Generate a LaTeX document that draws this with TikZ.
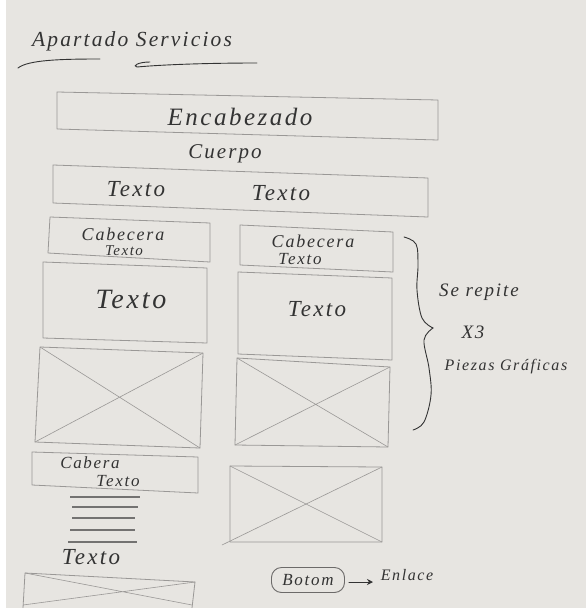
\documentclass[tikz,border=0pt]{standalone}
\usepackage{fontspec}
\setmainfont{Liberation Serif}
\newfontfamily\hw[LetterSpace=10]{Liberation Serif}
\usetikzlibrary{arrows.meta}
\definecolor{paper}{HTML}{E7E5E1}
\definecolor{pencil}{HTML}{9A9896}
\definecolor{ink}{HTML}{333333}
\tikzset{
  x=1pt, y=-1pt,
  sk/.style={draw=pencil, line width=0.8pt, line join=round},
  diag/.style={draw=pencil, line width=0.6pt},
  ruled/.style={draw=pencil!75!black, line width=1.1pt},
  hand/.style={text=ink, inner sep=0pt},
  inkline/.style={draw=ink, line width=0.9pt, line cap=round},
}
\newcommand{\hs}[1]{\hw\itshape\fontsize{#1}{#1}\selectfont}
\begin{document}
\begin{tikzpicture}
\useasboundingbox (0,0) rectangle (586,608);
\fill[paper] (0,0) rectangle (586,608);
\fill[white] (0,0) rectangle (6,608);
% title
\node[hand, font=\hs{21.5}] (title) at (132,41) {Apartado Servicios};
\draw[inkline] (18,68) .. controls (28,60) and (60,59) .. (100,59);
\draw[inkline] (150,62) .. controls (138,62) and (132,66) .. (137,67) .. controls (170,64) and (220,63) .. (257,63);
% encabezado
\draw[sk] (57,92) -- (438,100) -- (438,140) -- (57,129) -- cycle;
\node[hand, font=\hs{25}] (enc) at (240,117) {Encabezado};
\node[hand, font=\hs{21}] (cuerpo) at (225,154) {Cuerpo};
% texto row
\draw[sk] (53,165) -- (428,178) -- (428,217) -- (53,203) -- cycle;
\node[hand, font=\hs{23}] (t1) at (136,189) {Texto};
\node[hand, font=\hs{23}] (t2) at (281,193) {Texto};
% left column
\draw[sk] (50,217) -- (210,223) -- (210,262) -- (48,253) -- cycle;
\node[hand, font=\hs{18}] (lcab) at (123,234) {Cabecera};
\node[hand, font=\hs{15}] (ltx) at (124,251) {Texto};
\draw[sk] (43,262) -- (207,268) -- (207,343) -- (43,338) -- cycle;
\node[hand, font=\hs{28}] (ltexto) at (131,299) {Texto};
\draw[sk] (40,347) coordinate (la) -- (203,353) coordinate (lb) -- (200,448) coordinate (lc) -- (35,442) coordinate (ld) -- cycle;
\draw[diag] (la) -- (lc) (lb) -- (ld);
% right column
\draw[sk] (240,225) -- (393,232) -- (393,272) -- (240,265) -- cycle;
\node[hand, font=\hs{18}] (rcab) at (313,241) {Cabecera};
\node[hand, font=\hs{17}] (rtx) at (300,259) {Texto};
\draw[sk] (238,272) -- (392,278) -- (392,360) -- (238,354) -- cycle;
\node[hand, font=\hs{23}] (rtexto) at (317,309) {Texto};
\draw[sk] (237,358) coordinate (ra) -- (390,367) coordinate (rb) -- (388,447) coordinate (rc) -- (235,445) coordinate (rd) -- cycle;
\draw[diag] (ra) -- (rc) (rb) -- (rd);
% brace
\draw[inkline] plot[smooth, tension=0.6] coordinates {(404,237) (416,244) (418,265) (417,290) (422,318) (433,328)};
\draw[inkline] plot[smooth, tension=0.6] coordinates {(433,328) (424,340) (429,368) (431,395) (424,422) (413,430)};
\node[hand, font=\hs{19}] (rep) at (479,292) {Se repite};
\node[hand, font=\hs{19}] (x3) at (473,332) {X3};
\node[hand, font=\hs{16}] (piezas) at (506,367) {Piezas Gráficas};
% bottom left
\draw[sk] (32,452) -- (198,457) -- (198,493) -- (32,485) -- cycle;
\node[hand, font=\hs{17}] (cab2) at (90,463) {Cabera};
\node[hand, font=\hs{17}] (tx2) at (118,481) {Texto};
\foreach \yy/\xa/\xb in {497/70/140, 507/72/138, 518/72/135, 530/70/135, 542/68/137}
  \draw[ruled] (\xa,\yy) -- (\xb,\yy);
\node[hand, font=\hs{23}] (bt) at (91,557) {Texto};
\draw[sk] (23,608) coordinate (bd) -- (25,573) coordinate (ba) -- (195,582) coordinate (bb) -- (192,608) coordinate (bc);
\draw[diag] (ba) -- (192,605) (bb) -- (23,605);
% right bottom image
\draw[sk] (230,466) coordinate (ia) -- (382,467) coordinate (ib) -- (382,542) coordinate (ic) -- (230,542) coordinate (id) -- cycle;
\draw[diag] (ia) -- (ic) (ib) -- (222,545);
% boton
\node[draw=pencil!70!black, line width=0.9pt, rounded corners=10pt, minimum width=73pt, minimum height=25pt, hand, font=\hs{17}] (boton) at (308,580) {Botom};
\node[hand, font=\hs{16}] (enl) at (407,575) {Enlace};
\draw[inkline, -{Stealth[length=6pt,width=6pt]}] (boton.east) ++(4,2) coordinate (as) -- (373,582) coordinate (ae);
\end{tikzpicture}
\end{document}
